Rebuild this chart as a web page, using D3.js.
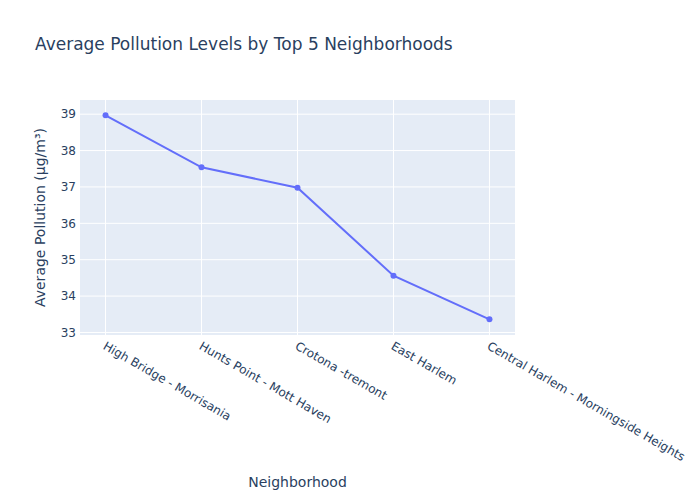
<!DOCTYPE html>
<html><head><meta charset="utf-8">
<script src="https://cdn.jsdelivr.net/npm/d3@7/dist/d3.min.js"></script>
<style>body{margin:0;background:#fff}text{font-family:"DejaVu Sans",sans-serif}</style>
</head><body><svg id="c" width="700" height="500"></svg>
<script>
const categories = ["High Bridge - Morrisania","Hunts Point - Mott Haven","Crotona -tremont","East Harlem","Central Harlem - Morningside Heights"];
const values = [38.97, 37.54, 36.98, 34.56, 33.36];
const yTicks = [33,34,35,36,37,38,39];

const svg = d3.select("#c");
const L=80,R=515,T=100,B=335;
const x = d3.scalePoint().domain(categories).range([L,R]).padding(0.266);
const y = d3.scaleLinear().domain([32.93,39.39]).range([B,T]);
const txt="#2a3f5f";

svg.append("rect").attr("x",L).attr("y",T).attr("width",R-L).attr("height",B-T).attr("fill","#e5ecf6");
svg.append("g").selectAll("line").data(yTicks).join("line")
  .attr("x1",L).attr("x2",R).attr("y1",d=>y(d)).attr("y2",d=>y(d)).attr("stroke","#fff").attr("stroke-width",1);
svg.append("g").selectAll("line").data(categories).join("line")
  .attr("x1",d=>x(d)).attr("x2",d=>x(d)).attr("y1",T).attr("y2",B).attr("stroke","#fff").attr("stroke-width",1);

svg.append("g").selectAll("text").data(yTicks).join("text")
  .attr("x",L-2-2).attr("y",d=>y(d)).attr("dy","0.35em").attr("text-anchor","end")
  .attr("font-size",12).attr("fill",txt).text(d=>d);

svg.append("g").selectAll("text").data(categories).join("text")
  .attr("transform",d=>`translate(${x(d)+1},${B+6}) rotate(30)`)
  .attr("dy","0.71em").attr("text-anchor","start")
  .attr("font-size",12).attr("fill",txt).text(d=>d);

const line = d3.line().x((d,i)=>x(categories[i])).y(d=>y(d));
svg.append("path").datum(values).attr("d",line).attr("fill","none").attr("stroke","#636efa").attr("stroke-width",2);
svg.append("g").selectAll("circle").data(values).join("circle")
  .attr("cx",(d,i)=>x(categories[i])).attr("cy",d=>y(d)).attr("r",3).attr("fill","#636efa");

svg.append("text").attr("x",35).attr("y",50).attr("font-size",17).attr("fill",txt).text("Average Pollution Levels by Top 5 Neighborhoods");
svg.append("text").attr("x",(L+R)/2).attr("y",487).attr("text-anchor","middle").attr("font-size",14).attr("fill",txt).text("Neighborhood");
svg.append("text").attr("transform",`translate(45,${(T+B)/2}) rotate(-90)`).attr("text-anchor","middle").attr("font-size",14).attr("fill",txt).text("Average Pollution (μg/m³)");
</script></body></html>
